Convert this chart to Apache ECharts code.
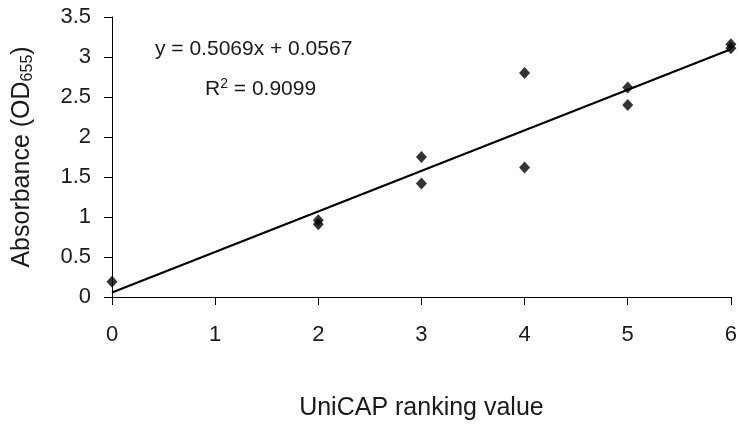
<!DOCTYPE html>
<html><head><meta charset="utf-8">
<script src="https://cdn.jsdelivr.net/npm/echarts@6/dist/echarts.min.js"></script>
<style>html,body{margin:0;padding:0;background:#fff}#c{width:740px;height:432px}</style>
</head><body><div id="c"></div>
<script>
const xValues = [0, 2, 2, 3, 3, 4, 4, 5, 5, 6, 6];
const yValues = [0.19, 0.96, 0.91, 1.75, 1.42, 2.80, 1.62, 2.62, 2.40, 3.16, 3.11];
const trendX = [0, 6];
const trendY = [0.0567, 3.098];
const equationText = 'y = 0.5069x + 0.0567';
const r2Value = '0.9099';
const xTitle = 'UniCAP ranking value';
const yTitle = 'Absorbance (OD{sub|655})';

const FONT = '"Liberation Sans", Arial, sans-serif';
const TXT = '#1a1a1a';
const chart = echarts.init(document.getElementById('c'), null, {renderer: 'canvas'});
chart.setOption({
  backgroundColor: '#fff',
  animation: false,
  grid: {left: 112, right: 7, top: 17, bottom: 135, containLabel: false},
  xAxis: {
    type: 'value', min: 0, max: 6, interval: 1,
    name: xTitle, nameLocation: 'middle', nameGap: 99,
    nameTextStyle: {fontFamily: FONT, fontSize: 25, color: TXT},
    axisLine: {show: true, onZero: false, lineStyle: {color: '#000', width: 1}},
    axisTick: {show: true, length: 8, lineStyle: {color: '#000'}},
    axisLabel: {fontFamily: FONT, fontSize: 22, color: TXT, margin: 27},
    splitLine: {show: false}
  },
  yAxis: {
    type: 'value', min: 0, max: 3.5, interval: 0.5,
    name: yTitle, nameLocation: 'middle', nameGap: 76, nameRotate: 90,
    nameTextStyle: {fontFamily: FONT, fontSize: 25, color: TXT,
      rich: {sub: {fontFamily: FONT, fontSize: 16, color: TXT, padding: [11, 0, 0, 0]}}},
    axisLine: {show: true, lineStyle: {color: '#000', width: 1}},
    axisTick: {show: true, length: 8, lineStyle: {color: '#000'}},
    axisLabel: {fontFamily: FONT, fontSize: 22, color: TXT, margin: 21},
    splitLine: {show: false}
  },
  graphic: [
    {type: 'text', left: 155, top: 39, style: {text: equationText, font: '21px ' + FONT, fill: TXT}},
    {type: 'text', left: 205, top: 77, style: {
      text: 'R{sup|2} = ' + r2Value, font: '21px ' + FONT, fill: TXT,
      rich: {sup: {fontSize: 14, fontFamily: FONT, fill: TXT, padding: [0, 0, 11, 0]}}}}
  ],
  series: [
    {type: 'line', data: trendX.map((x, i) => [x, trendY[i]]), symbol: 'none',
     lineStyle: {color: '#000', width: 2.2}, z: 2, silent: true},
    {type: 'scatter', data: xValues.map((x, i) => [x, yValues[i]]), symbol: 'diamond',
     symbolSize: [11, 12], itemStyle: {color: '#000'}, z: 3}
  ]
});
</script></body></html>
